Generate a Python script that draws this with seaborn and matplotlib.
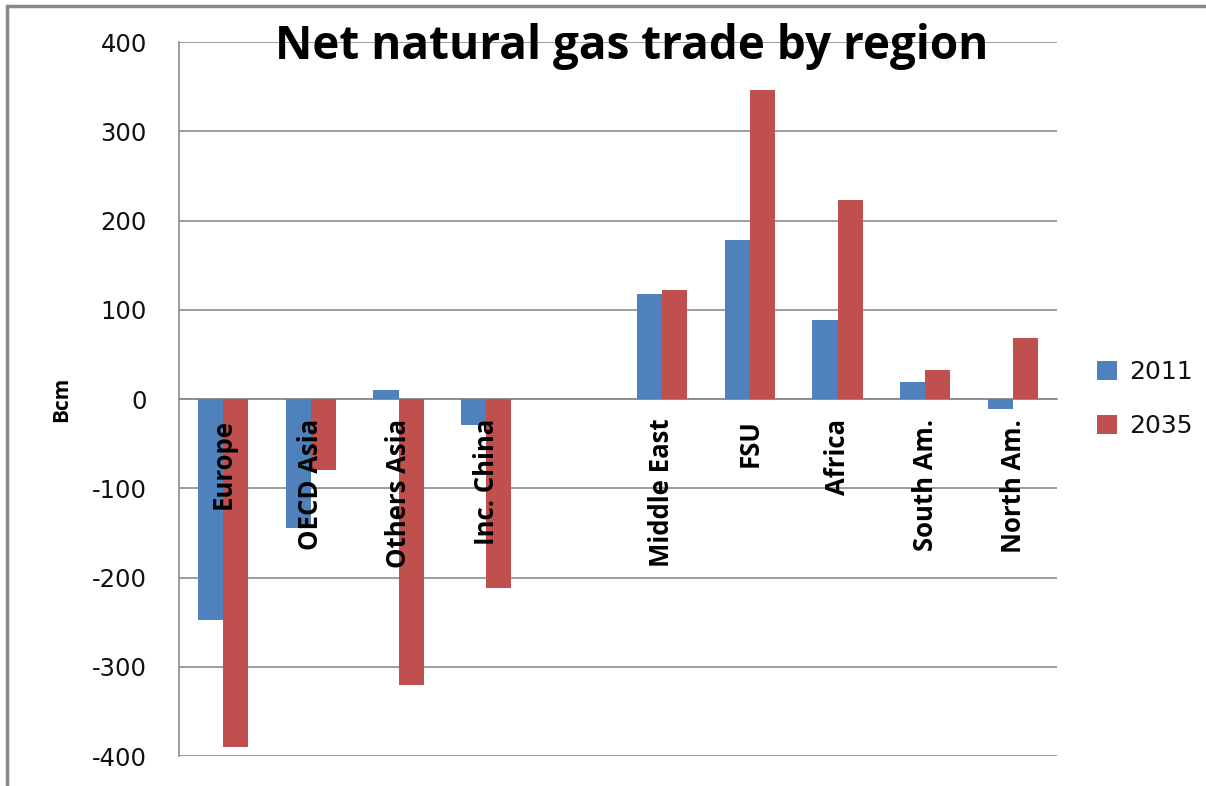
import numpy as np
import pandas as pd
import seaborn as sns
import matplotlib.pyplot as plt
from matplotlib.lines import Line2D

# Daty (Bcm)
regions = ["Europe", "OECD Asia", "Others Asia", "Inc. China", "",
           "Middle East", "FSU", "Africa", "South Am.", "North Am."]
values_2011 = [-248, -144, 10, -29, np.nan, 118, 178, 89, 19, -11]
values_2035 = [-390, -80, -320, -212, np.nan, 122, 346, 223, 32, 68]
years = ["2011", "2035"]
y_ticks = [-400, -300, -200, -100, 0, 100, 200, 300, 400]

colors = ["#4F81BD", "#C0504D"]
grid_color = "#8C8C8C"
bold_font = "Open Sans"

df = pd.DataFrame({
    "region": regions * 2,
    "year": [years[0]] * len(regions) + [years[1]] * len(regions),
    "value": values_2011 + values_2035,
})

sns.set_style("white")
plt.rcParams["axes.unicode_minus"] = False
plt.rcParams["font.family"] = ["DejaVu Sans"]
plt.rcParams["text.color"] = "black"

fig = plt.figure(figsize=(12.06, 7.86), dpi=100)
ax = fig.add_axes([179 / 1206, 1 - 756 / 786, 878 / 1206, 714 / 786])

sns.barplot(data=df, x="region", y="value", hue="year", order=regions,
            hue_order=years, palette=colors, width=2 / 3.5, gap=0,
            linewidth=0, saturation=1, ax=ax, zorder=3)

ax.set_xlim(-0.5, len(regions) - 0.5)
ax.set_ylim(-400, 400)
ax.set_yticks(y_ticks)
ax.set_yticklabels([str(t) for t in y_ticks], fontsize=17.5, color="#111111")
ax.yaxis.grid(True, color=grid_color, linewidth=1.2, zorder=0)
ax.set_axisbelow(True)

# os X na wysokosci zera, znaczniki na granicach kategorii
ax.spines["bottom"].set_position(("data", 0))
for s in ["top", "right"]:
    ax.spines[s].set_visible(False)
for s in ["bottom", "left"]:
    ax.spines[s].set_color(grid_color)
    ax.spines[s].set_linewidth(1.2)
ax.set_xticks(np.arange(-0.5, len(regions), 1.0))
ax.set_xticklabels([])
ax.tick_params(axis="x", direction="out", length=10, color=grid_color, width=1.2)
ax.tick_params(axis="y", direction="out", length=10, color=grid_color, width=1.2, pad=13)
ax.set_xlabel("")
ax.set_ylabel("Bcm", fontsize=15, fontweight="bold", family=bold_font,
              color="black", labelpad=14)

for i, name in enumerate(regions):
    ax.text(i, -22, name, rotation=90, ha="center", va="top", color="black",
            fontsize=18.5, fontweight="bold", family=bold_font, zorder=5)

sns.move_legend(ax, loc="center left", bbox_to_anchor=(1.02, 0.5), frameon=False,
                title=None, fontsize=18, handlelength=0.8, handleheight=0.8,
                labelspacing=1.2, handletextpad=0.5)
for t in ax.get_legend().get_texts():
    t.set_color("#111111")

fig.text(632 / 1206, 1 - 46 / 786, "Net natural gas trade by region", color="black",
         ha="center", va="center", fontsize=33, fontweight="bold", family=bold_font)

# ramka wykresu (gorna i lewa krawedz)
fig.add_artist(Line2D([7 / 1206, 1], [1 - 6 / 786, 1 - 6 / 786],
                      transform=fig.transFigure, color="#888888", linewidth=2.5))
fig.add_artist(Line2D([7 / 1206, 7 / 1206], [0, 1 - 6 / 786],
                      transform=fig.transFigure, color="#888888", linewidth=2.5))

fig.savefig("out.png", dpi=100)
